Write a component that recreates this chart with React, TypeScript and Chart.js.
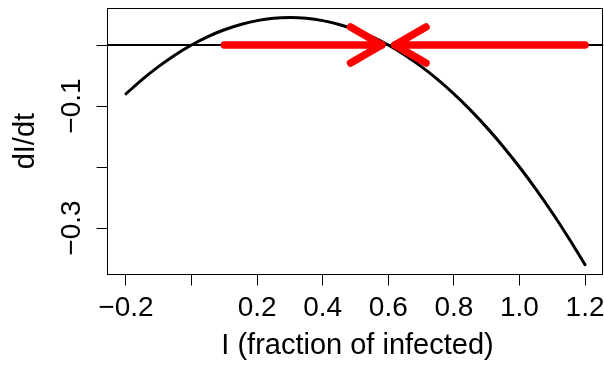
import { useEffect, useRef } from "react";
import { Chart, registerables } from "chart.js";

Chart.register(...registerables);

// Curve: dI/dt against I
const infected = [
  -0.2, -0.15, -0.1, -0.05, 0, 0.05, 0.1, 0.15, 0.2, 0.25, 0.3, 0.35, 0.4, 0.45,
  0.5, 0.55, 0.6, 0.65, 0.7, 0.75, 0.8, 0.85, 0.9, 0.95, 1.0, 1.05, 1.1, 1.15, 1.2,
];
const dIdt = [
  -0.08, -0.05625, -0.035, -0.01625, 0, 0.01375, 0.025, 0.03375, 0.04, 0.04375,
  0.045, 0.04375, 0.04, 0.03375, 0.025, 0.01375, 0, -0.01625, -0.035, -0.05625,
  -0.08, -0.10625, -0.135, -0.16625, -0.2, -0.23625, -0.275, -0.31625, -0.36,
];

// Red arrows (stability of the equilibrium at I = 0.6)
const leftShaftX = [0.1, 0.58];
const leftShaftY = [0, 0];
const leftHeadX = [0.485, 0.58, 0.485];
const leftHeadY = [0.0295, 0, -0.0295];
const rightShaftX = [1.2, 0.62];
const rightShaftY = [0, 0];
const rightHeadX = [0.715, 0.62, 0.715];
const rightHeadY = [0.0295, 0, -0.0295];

// Axes
const xRange = [-0.256, 1.256];
const yRange = [-0.3762, 0.0612];
const xTicks = [-0.2, 0, 0.2, 0.4, 0.6, 0.8, 1.0, 1.2];
const xTickLabels = ["\u22120.2", "", "0.2", "0.4", "0.6", "0.8", "1.0", "1.2"];
const yTicks = [-0.3, -0.2, -0.1, 0];
const yTickLabels = ["\u22120.3", "", "\u22120.1", ""];
const xTitle = "I (fraction of infected)";
const yTitle = "dI/dt";
const zeroLineY = 0;

const FAMILY = '"Liberation Sans", Arial, Helvetica, sans-serif';
const TICK_FONT = "28px " + FAMILY;
const TITLE_FONT = "29px " + FAMILY;

const pts = (xs: number[], ys: number[]) => xs.map((x, i) => ({ x, y: ys[i] }));

export default function App() {
  const ref = useRef<HTMLCanvasElement | null>(null);

  useEffect(() => {
    document.body.style.margin = "0";
    const canvas = ref.current;
    if (!canvas) return;

    const decor = {
      id: "rdecor",
      afterDraw(chart: any) {
        const { ctx, chartArea: a, scales } = chart;
        const xs = scales.x;
        const ys = scales.y;
        ctx.save();
        ctx.strokeStyle = "#000";
        ctx.lineWidth = 1;
        const l = Math.round(a.left) - 0.5;
        const t = Math.round(a.top) + 0.5;
        const r = Math.round(a.right) - 0.5;
        const b = Math.round(a.bottom) - 0.5;
        ctx.strokeRect(l, t, r - l, b - t);
        ctx.fillStyle = "#000";
        ctx.font = TICK_FONT;
        ctx.textAlign = "center";
        ctx.textBaseline = "alphabetic";
        xTicks.forEach((v, i) => {
          const lab = xTickLabels[i];
          if (lab) ctx.fillText(lab, xs.getPixelForValue(v), 316);
        });
        yTicks.forEach((v, i) => {
          const lab = yTickLabels[i];
          if (!lab) return;
          ctx.save();
          ctx.translate(79.5, ys.getPixelForValue(v));
          ctx.rotate(-Math.PI / 2);
          ctx.fillText(lab, 0, 0);
          ctx.restore();
        });
        ctx.font = TITLE_FONT;
        ctx.fillText(xTitle, (a.left + a.right) / 2 + 2, 354);
        ctx.save();
        ctx.translate(34, (a.top + a.bottom) / 2);
        ctx.rotate(-Math.PI / 2);
        ctx.fillText(yTitle, 0, 0);
        ctx.restore();
        ctx.restore();
      },
    };

    const red = "#ff0000";
    const arrowStyle = {
      borderColor: red,
      backgroundColor: red,
      borderWidth: 7.5,
      borderCapStyle: "round",
      borderJoinStyle: "round",
      showLine: true,
      pointRadius: 0,
      tension: 0,
      clip: false,
    };

    const chart = new Chart(canvas, {
      type: "scatter",
      data: {
        datasets: [
          { data: pts(leftShaftX, leftShaftY), ...arrowStyle },
          { data: pts(leftHeadX, leftHeadY), ...arrowStyle },
          { data: pts(rightShaftX, rightShaftY), ...arrowStyle },
          { data: pts(rightHeadX, rightHeadY), ...arrowStyle },
          {
            data: pts(infected, dIdt),
            borderColor: "#000",
            backgroundColor: "#000",
            borderWidth: 3,
            borderCapStyle: "round",
            borderJoinStyle: "round",
            showLine: true,
            pointRadius: 0,
            tension: 0.3,
          },
          {
            data: pts(xRange, [zeroLineY, zeroLineY]),
            borderColor: "#000",
            backgroundColor: "#000",
            borderWidth: 2,
            showLine: true,
            pointRadius: 0,
          },
        ] as any,
      },
      options: {
        animation: false,
        responsive: true,
        maintainAspectRatio: false,
        layout: { padding: { top: 7.7, right: 0.6, left: 0, bottom: 0 } },
        plugins: { legend: { display: false }, tooltip: { enabled: false } },
        events: [],
        scales: {
          x: {
            type: "linear",
            min: xRange[0],
            max: xRange[1],
            afterBuildTicks: (s: any) => {
              s.ticks = xTicks.map((v) => ({ value: v }));
            },
            afterFit: (s: any) => {
              s.height = 94.5;
            },
            ticks: { display: false },
            border: { display: false },
            grid: {
              drawOnChartArea: false,
              drawTicks: true,
              tickLength: 11,
              color: "#000",
              lineWidth: 1,
            },
          },
          y: {
            type: "linear",
            min: yRange[0],
            max: yRange[1],
            afterBuildTicks: (s: any) => {
              s.ticks = yTicks.map((v) => ({ value: v }));
            },
            afterFit: (s: any) => {
              s.width = 107.6;
            },
            ticks: { display: false },
            border: { display: false },
            grid: {
              drawOnChartArea: false,
              drawTicks: true,
              tickLength: 11,
              color: "#000",
              lineWidth: 1,
            },
          },
        },
      } as any,
      plugins: [decor],
    });

    return () => chart.destroy();
  }, []);

  return (
    <div style={{ position: "fixed", left: 0, top: 0, width: 604, height: 369, background: "#fff" }}>
      <canvas ref={ref} />
    </div>
  );
}
